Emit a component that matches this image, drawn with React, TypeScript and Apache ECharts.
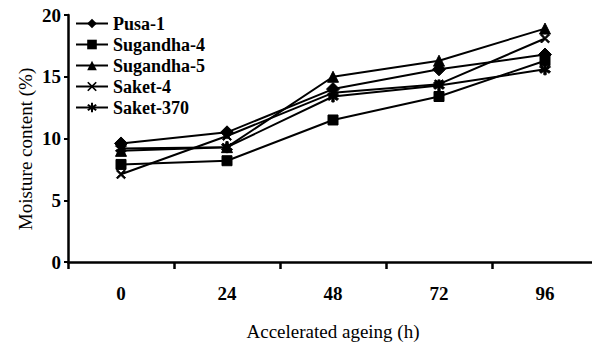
import React, { useEffect, useRef } from "react";
import * as echarts from "echarts";

const categories = ["0", "24", "48", "72", "96"];
const pusa1 = [9.6, 10.5, 14.0, 15.6, 16.8];
const sugandha4 = [7.9, 8.2, 11.5, 13.4, 16.3];
const sugandha5 = [9.0, 9.3, 15.0, 16.3, 18.9];
const saket4 = [7.1, 10.2, 13.7, 14.4, 18.1];
const saket370 = [9.2, 9.3, 13.4, 14.3, 15.6];

const seriesNames = ["Pusa-1", "Sugandha-4", "Sugandha-5", "Saket-4", "Saket-370"];
const seriesData = [pusa1, sugandha4, sugandha5, saket4, saket370];

const XSYM =
  "path://M0,1.2 L1.2,0 L5,3.8 L8.8,0 L10,1.2 L6.2,5 L10,8.8 L8.8,10 L5,6.2 L1.2,10 L0,8.8 L3.8,5 Z";
const STAR =
  "path://M4,0 H6 V3.3 L8.6,1.4 L9.8,3 L7,5 L9.8,7 L8.6,8.6 L6,6.7 V10 H4 V6.7 L1.4,8.6 L0.2,7 L3,5 L0.2,3 L1.4,1.4 L4,3.3 Z";
const symbols = ["diamond", "rect", "triangle", XSYM, STAR];
const sizes = [13, 10, 11, 9, 11];

const FONT = "Liberation Serif";

export default function App() {
  const ref = useRef<HTMLDivElement>(null);
  useEffect(() => {
    if (!ref.current) return;
    const chart = echarts.init(ref.current, undefined, { renderer: "svg" });
    chart.setOption({
      animation: false,
      backgroundColor: "#fff",
      textStyle: { fontFamily: FONT, color: "#000" },
      grid: { left: 68, top: 15, bottom: 81, right: -6, containLabel: false, outerBoundsMode: "none" },
      legend: {
        orient: "vertical",
        left: 70,
        top: 9,
        itemWidth: 32,
        itemHeight: 12,
        itemGap: 2,
        textStyle: { fontFamily: FONT, fontSize: 18, fontWeight: "bold", color: "#000", lineHeight: 19 },
        data: seriesNames,
      },
      xAxis: {
        type: "category",
        data: categories,
        boundaryGap: true,
        name: "Accelerated ageing (h)",
        nameLocation: "middle",
        nameGap: 60,
        nameTextStyle: { fontFamily: FONT, fontSize: 19, color: "#000" },
        axisLine: { lineStyle: { color: "#000", width: 2.5 } },
        axisTick: { show: true, length: 7, lineStyle: { color: "#000", width: 2.5 } },
        axisLabel: { margin: 22, fontFamily: FONT, fontSize: 19, fontWeight: "bold", color: "#000" },
      },
      yAxis: {
        type: "value",
        min: 0,
        max: 20,
        interval: 5,
        axisLine: { show: true, lineStyle: { color: "#000", width: 2.5 } },
        axisTick: { show: true, length: 4, lineStyle: { color: "#000", width: 2 } },
        axisLabel: { margin: 7, fontFamily: FONT, fontSize: 19, fontWeight: "bold", color: "#000" },
        splitLine: { show: false },
      },
      graphic: [
        {
          type: "text",
          x: 25,
          y: 149,
          rotation: Math.PI / 2,
          style: {
            text: "Moisture content (%)",
            align: "center",
            verticalAlign: "middle",
            fontFamily: FONT,
            fontSize: 19,
            fill: "#000",
          },
        },
      ],
      series: seriesNames.map((name, i) => ({
        name,
        type: "line",
        data: seriesData[i],
        symbol: symbols[i],
        symbolSize: sizes[i],
        showAllSymbol: true,
        lineStyle: { color: "#000", width: 2 },
        itemStyle: { color: "#000", borderColor: "#000" },
        z: 2 + i,
      })),
    });
    return () => chart.dispose();
  }, []);
  return (
    <div style={{ position: "absolute", left: 0, top: 0 }}>
      <div ref={ref} style={{ width: 592, height: 343 }} />
    </div>
  );
}
